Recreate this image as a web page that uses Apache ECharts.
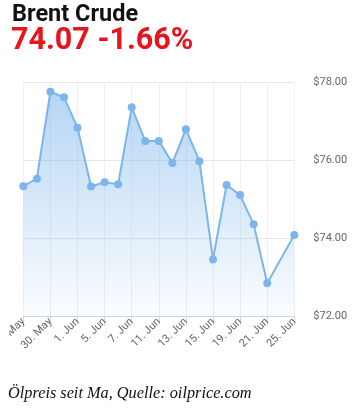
<!DOCTYPE html>
<html><head><meta charset="utf-8">
<script src="https://cdn.jsdelivr.net/npm/echarts@6/dist/echarts.min.js"></script>
<style>html,body{margin:0;padding:0;background:#fff}#c{width:356px;height:413px}</style>
</head><body><div id="c"></div>
<script>
const dates = ['28. May','29. May','30. May','31. May','1. Jun','4. Jun','5. Jun','6. Jun','7. Jun','8. Jun','11. Jun','12. Jun','13. Jun','14. Jun','15. Jun','18. Jun','19. Jun','20. Jun','21. Jun','22. Jun','25. Jun'];
const prices = [75.33,75.52,77.75,77.61,76.83,75.32,75.43,75.38,77.35,76.49,76.49,75.92,76.79,75.97,73.45,75.36,75.10,74.35,72.84,null,74.08];
const yTicks = [72,74,76,78];
const titleText = 'Brent Crude';
const priceText = '74.07 -1.66%';
const captionText = 'Ölpreis seit Ma, Quelle: oilprice.com';

const chart = echarts.init(document.getElementById('c'), null, {renderer:'canvas'});
chart.setOption({
  animation:false,
  backgroundColor:'#fff',
  graphic:[
    {type:'text', left:12, top:3, style:{text:titleText, fontFamily:'Roboto', fontWeight:'bold', fontSize:23.5, fill:'#111'}},
    {type:'text', left:11, top:26, style:{text:priceText, fontFamily:'Roboto', fontWeight:'bold', fontSize:30.5, fill:'#e8141c'}},
    {type:'rect', left:0, top:318, z:100, shape:{width:9, height:50}, style:{fill:'#fff'}},
    {type:'text', left:8, top:386, style:{text:captionText, fontFamily:'Liberation Serif', fontStyle:'italic', fontSize:16.3, fill:'#111'}}
  ],
  grid:{left:23.3, right:61.7, top:82, bottom:97, containLabel:false, outerBoundsMode:'none'},
  xAxis:{
    type:'category', data:dates, boundaryGap:false,
    axisLine:{lineStyle:{color:'#ccd6eb'}},
    axisTick:{show:true, interval:1, length:9, lineStyle:{color:'#ccd6eb'}},
    axisLabel:{interval:1, rotate:45, color:'#666', fontFamily:'Roboto', fontSize:11, margin:4, hideOverlap:false},
    splitLine:{show:true, interval:1, lineStyle:{color:'#f0f0f0'}}
  },
  yAxis:{
    type:'value', position:'right', min:72, max:78, interval:2,
    axisLine:{show:false}, axisTick:{show:false},
    axisLabel:{color:'#666', fontFamily:'Roboto', fontSize:11, margin:19, formatter:v=>'$'+v.toFixed(2)},
    splitLine:{lineStyle:{color:'#e6e6e6'}}
  },
  series:[{
    type:'line', data:prices, connectNulls:true,
    symbol:'circle', symbolSize:8,
    lineStyle:{color:'#7cb5ec', width:2},
    itemStyle:{color:'#7cb5ec'},
    areaStyle:{color:new echarts.graphic.LinearGradient(0,0,0,1,[
      {offset:0, color:'rgba(124,181,236,0.8)'},
      {offset:1, color:'rgba(124,181,236,0.05)'}
    ]), origin:'start'}
  }]
});
</script></body></html>
